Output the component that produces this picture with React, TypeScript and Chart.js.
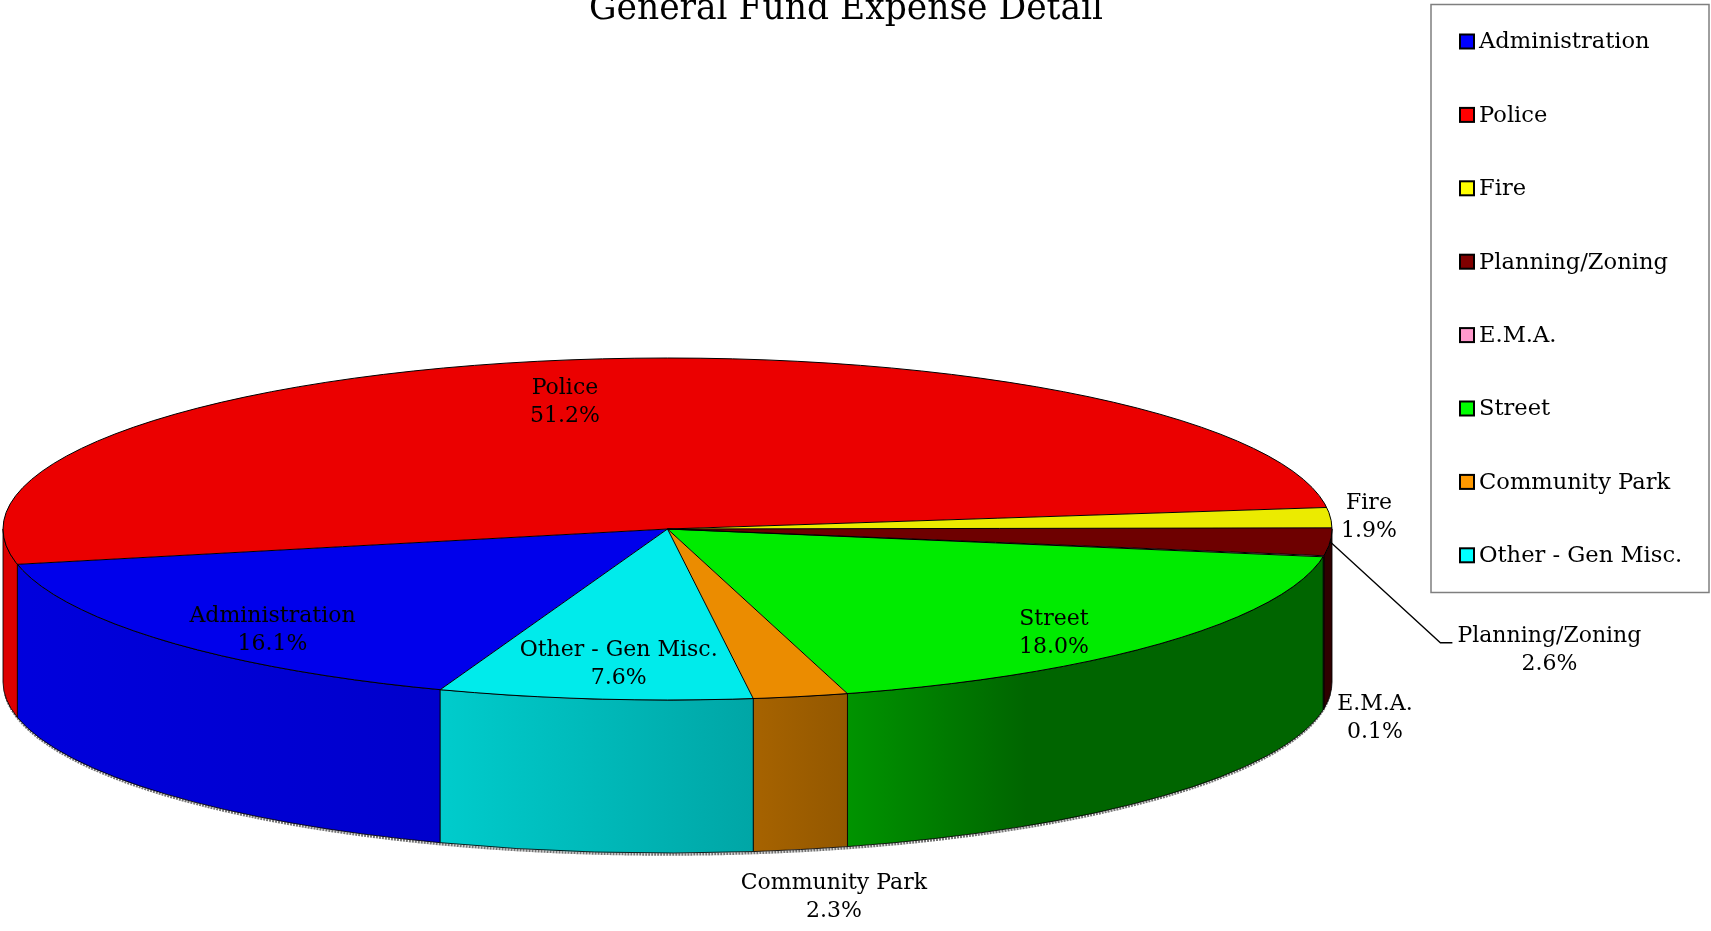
import React, { useEffect, useRef } from 'react';
import { Chart, registerables } from 'chart.js';

Chart.register(...registerables);

// ---------------- data ----------------
const titleText = 'General Fund Expense Detail';
const categories = [
  'Administration',
  'Police',
  'Fire',
  'Planning/Zoning',
  'E.M.A.',
  'Street',
  'Community Park',
  'Other - Gen Misc.',
];
const shares = [16.1, 51.2, 1.9, 2.6, 0.1, 18.0, 2.3, 7.6];
const legendColors = ['#0000FF', '#FF0000', '#FFFF00', '#800000', '#FF99CC', '#00FF00', '#FF9900', '#00FFFF'];
const sliceColors = ['#0000EB', '#EB0000', '#EBEB00', '#6E0000', '#EB8CBE', '#00EB00', '#EB8C00', '#00EBEB'];

// ---------------- layout / style ----------------
const W = 1711;
const H = 931;
const FONT = '"DejaVu Serif", "Liberation Serif", serif';
const LABEL_SIZE = 22;
const LEGEND_SIZE = 22.6;
const TITLE_SIZE = 34.5;
const PIE_RX = 664.5;
const SQUASH = 171 / 664.5;
const DEPTH = 153;
const SHADE_STOPS: [number, number][] = [
  [0, 0.94],
  [0.33, 0.87],
  [0.57, 0.7],
  [0.64, 0.62],
  [0.77, 0.43],
  [1, 0.43],
];
// label placement: radial factor, angular turn (deg), drop onto side (in depths)
const labelPlace = [
  { k: 0.84, turn: -4, drop: 0, leader: false },
  { k: 0.756, turn: -2.2, drop: 0, leader: false },
  { k: 1.058, turn: 0, drop: 0, leader: false },
  { k: 1.506, turn: 23.9, drop: 0, leader: true },
  { k: 1.086, turn: 2.2, drop: 1, leader: false },
  { k: 0.842, turn: 4.5, drop: 0, leader: false },
  { k: 1.282, turn: 0.3, drop: 1, leader: false },
  { k: 0.796, turn: -1, drop: 0, leader: false },
];

function hexToRgb(h: string): number[] {
  const v = h.replace('#', '');
  return [0, 2, 4].map((i) => parseInt(v.slice(i, i + 2), 16));
}
function shade(h: string, f: number): string {
  const [r, g, b] = hexToRgb(h);
  return `rgb(${Math.round(r * f)},${Math.round(g * f)},${Math.round(b * f)})`;
}

function frontParts(a0: number, a1: number): [number, number][] {
  const res: [number, number][] = [];
  for (const k of [-2, 0, 2, 4]) {
    const lo = Math.max(a0, k * Math.PI);
    const hi = Math.min(a1, (k + 1) * Math.PI);
    if (hi > lo) res.push([lo, hi]);
  }
  return res;
}

const pie3d = {
  id: 'pie3d',
  beforeDatasetsDraw(chart: any) {
    const ctx: CanvasRenderingContext2D = chart.ctx;
    const arcs = chart.getDatasetMeta(0).data as any[];
    if (!arcs.length) return;
    const cx = arcs[0].x;
    const cy = arcs[0].y;
    const R = arcs[0].outerRadius;
    const ry = R * SQUASH;
    const colors = chart.data.datasets[0].backgroundColor as string[];

    // soft shadow under the base
    ctx.save();
    ctx.beginPath();
    ctx.ellipse(cx, cy + DEPTH + 1.5, R - 1, ry, 0, 0.02 * Math.PI, 0.98 * Math.PI);
    ctx.strokeStyle = 'rgba(70,70,70,0.75)';
    ctx.lineWidth = 2.5;
    ctx.setLineDash([2, 1]);
    ctx.stroke();
    ctx.restore();

    // side walls
    arcs.forEach((arc, i) => {
      const parts = frontParts(arc.startAngle, arc.endAngle);
      parts.forEach(([lo, hi]) => {
        const grad = ctx.createLinearGradient(cx - R, 0, cx + R, 0);
        SHADE_STOPS.forEach(([u, f]) => grad.addColorStop(u, shade(colors[i], f)));
        ctx.beginPath();
        ctx.ellipse(cx, cy, R, ry, 0, lo, hi, false);
        ctx.ellipse(cx, cy + DEPTH, R, ry, 0, hi, lo, true);
        ctx.closePath();
        ctx.fillStyle = grad;
        ctx.fill();
        ctx.strokeStyle = 'rgba(0,0,0,0.85)';
        ctx.lineWidth = 1;
        ctx.stroke();
      });
    });

    // squash the library-drawn pie top into an ellipse
    ctx.save();
    ctx.translate(cx, cy);
    ctx.scale(1, SQUASH);
    ctx.translate(-cx, -cy);
  },
  afterDatasetsDraw(chart: any) {
    const ctx: CanvasRenderingContext2D = chart.ctx;
    ctx.restore();
    const arcs = chart.getDatasetMeta(0).data as any[];
    if (!arcs.length) return;
    const cx = arcs[0].x;
    const cy = arcs[0].y;
    const R = arcs[0].outerRadius;
    const ry = R * SQUASH;

    // outlines of the top face
    ctx.save();
    ctx.strokeStyle = '#000';
    ctx.lineWidth = 1;
    ctx.beginPath();
    ctx.ellipse(cx, cy, R, ry, 0, 0, Math.PI * 2);
    ctx.stroke();
    arcs.forEach((arc) => {
      ctx.beginPath();
      ctx.moveTo(cx, cy);
      ctx.lineTo(cx + R * Math.cos(arc.startAngle), cy + ry * Math.sin(arc.startAngle));
      ctx.stroke();
    });
    ctx.restore();

    // data labels
    const data = chart.data.datasets[0].data as number[];
    const labels = chart.data.labels as string[];
    ctx.save();
    ctx.font = `${LABEL_SIZE}px ${FONT}`;
    ctx.fillStyle = '#000';
    ctx.textAlign = 'center';
    ctx.textBaseline = 'middle';
    arcs.forEach((arc, i) => {
      const p = labelPlace[i];
      const mid = (arc.startAngle + arc.endAngle) / 2;
      const a = mid + (p.turn * Math.PI) / 180;
      const x = cx + p.k * R * Math.cos(a);
      const y = cy + p.k * ry * Math.sin(a) + p.drop * DEPTH;
      const l1 = labels[i];
      const l2 = `${data[i].toFixed(1)}%`;
      ctx.fillText(l1, x, y - 14);
      ctx.fillText(l2, x, y + 14);
      if (p.leader) {
        const w = ctx.measureText(l1).width;
        const left = x - w / 2;
        ctx.beginPath();
        ctx.moveTo(cx + R * Math.cos(mid), cy + ry * Math.sin(mid));
        ctx.lineTo(left - 17, y - 8);
        ctx.lineTo(left - 5, y - 8);
        ctx.strokeStyle = '#000';
        ctx.lineWidth = 1.3;
        ctx.stroke();
      }
    });
    ctx.restore();
  },
};

const titleAndLegend = {
  id: 'titleAndLegend',
  afterDraw(chart: any) {
    const ctx: CanvasRenderingContext2D = chart.ctx;
    ctx.save();
    // title
    ctx.font = `${TITLE_SIZE}px ${FONT}`;
    ctx.fillStyle = '#000';
    ctx.textAlign = 'center';
    ctx.textBaseline = 'alphabetic';
    ctx.fillText(titleText, 846, 19);

    // legend box
    ctx.strokeStyle = '#7f7f7f';
    ctx.lineWidth = 1.5;
    ctx.strokeRect(1431, 4.5, 278, 588);
    const labels = chart.data.labels as string[];
    ctx.font = `${LEGEND_SIZE}px ${FONT}`;
    ctx.textAlign = 'left';
    ctx.textBaseline = 'middle';
    labels.forEach((lab, i) => {
      const y = 41.5 + i * 73.4;
      ctx.fillStyle = legendColors[i];
      ctx.fillRect(1460, y - 7, 14, 14);
      ctx.strokeStyle = '#000';
      ctx.lineWidth = 2;
      ctx.strokeRect(1460, y - 7, 14, 14);
      ctx.fillStyle = '#000';
      ctx.fillText(lab, 1479, y + 1);
    });
    ctx.restore();
  },
};

export default function App() {
  const ref = useRef<HTMLCanvasElement | null>(null);
  useEffect(() => {
    if (!ref.current) return;
    const chart = new Chart(ref.current, {
      type: 'pie',
      data: {
        labels: categories,
        datasets: [
          {
            data: shares,
            backgroundColor: sliceColors,
            borderWidth: 0,
            clip: false as any,
            radius: PIE_RX,
          } as any,
        ],
      },
      options: {
        responsive: false,
        animation: false,
        events: [],
        rotation: 200,
        radius: PIE_RX,
        layout: { padding: { left: 0, right: W - 2 * 667.5, top: 2 * 529 - H, bottom: 0 } },
        plugins: {
          legend: { display: false },
          title: { display: false },
          tooltip: { enabled: false },
        },
      } as any,
      plugins: [pie3d, titleAndLegend],
    });
    return () => chart.destroy();
  }, []);
  return (
    <div style={{ position: 'fixed', left: 0, top: 0, width: W, height: H, background: '#fff' }}>
      <canvas ref={ref} width={W} height={H} style={{ display: 'block' }} />
    </div>
  );
}
